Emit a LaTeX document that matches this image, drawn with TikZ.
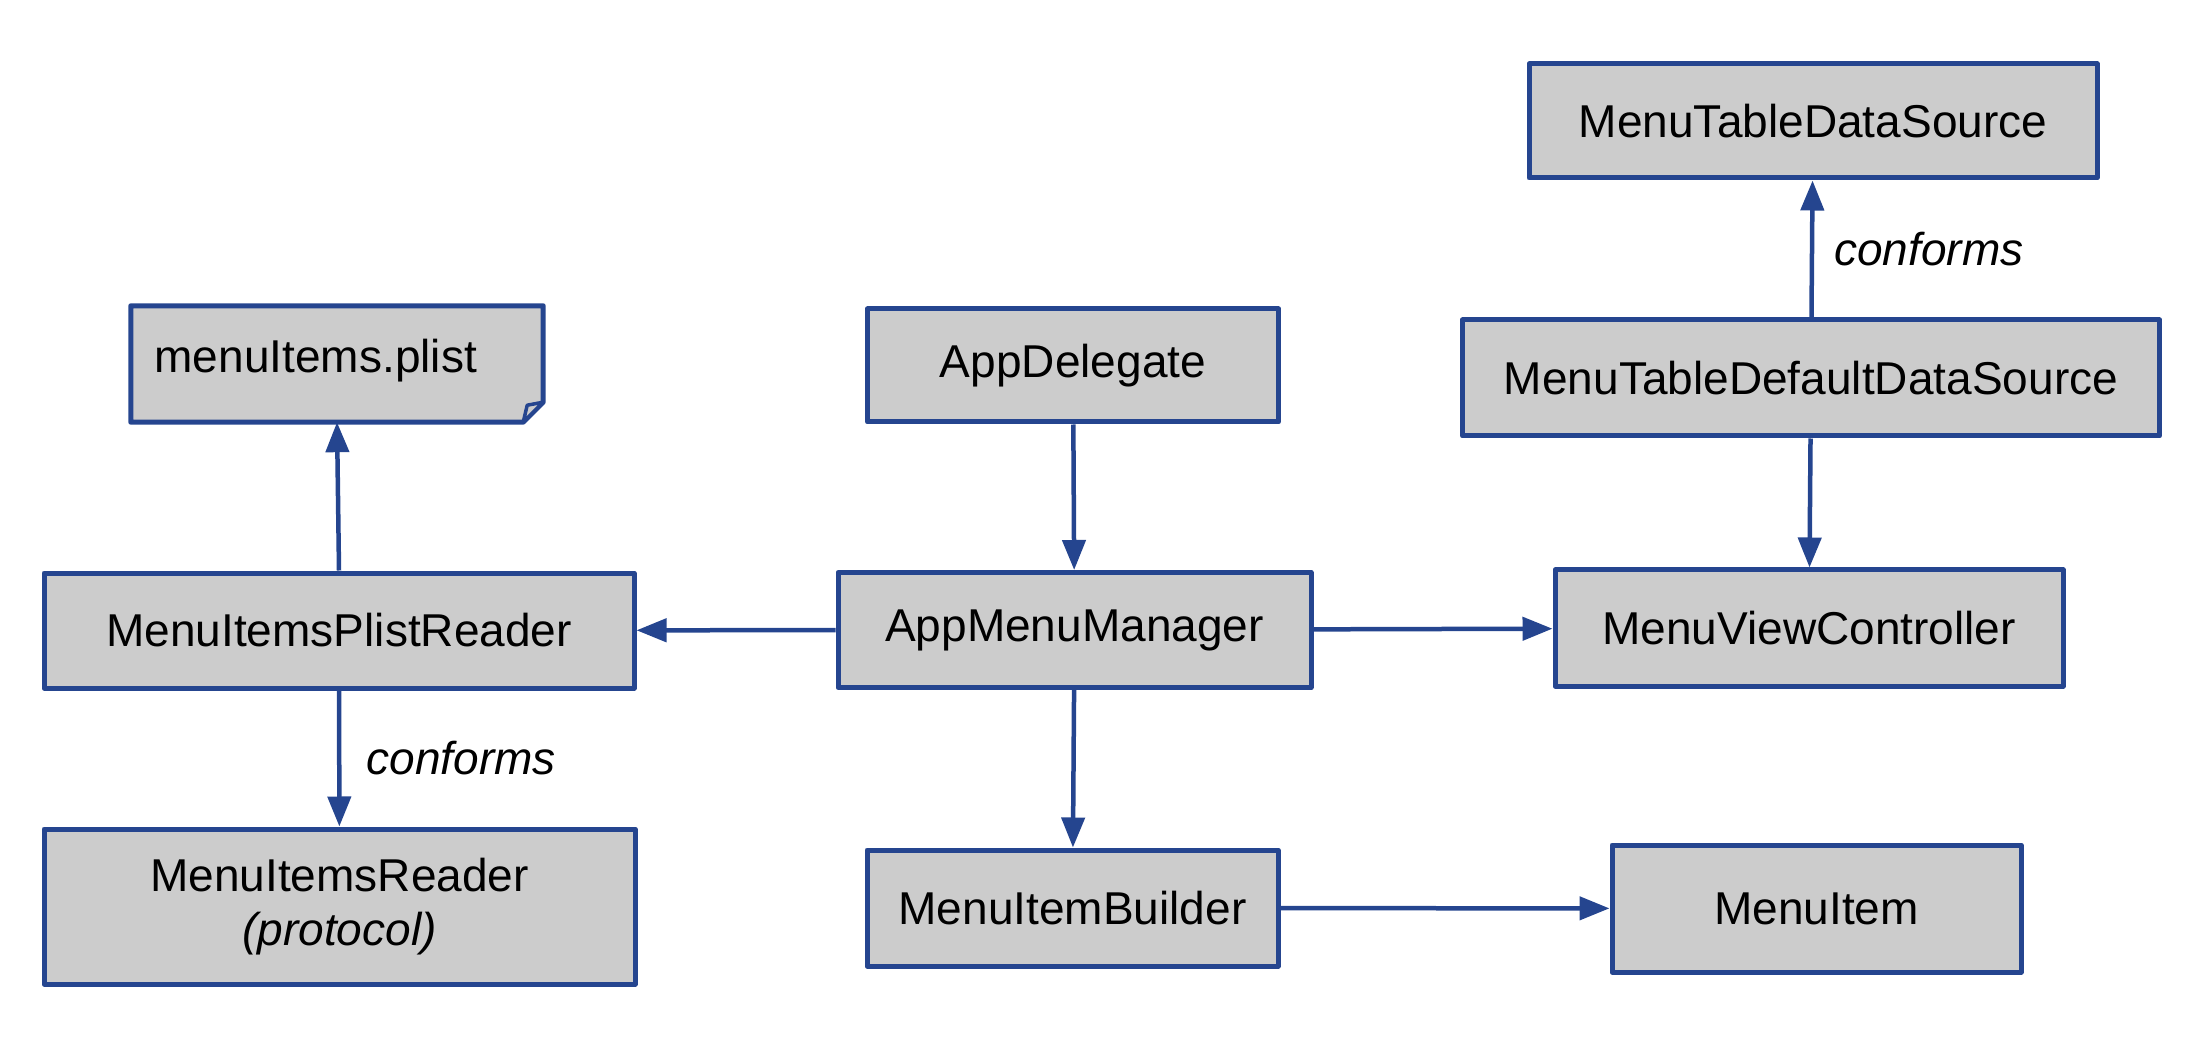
\documentclass[tikz,border=0pt]{standalone}
\usepackage{fontspec}
\setmainfont{Liberation Sans}
\usetikzlibrary{arrows.meta}
\definecolor{lineblue}{RGB}{37,69,143}
\definecolor{boxgray}{RGB}{204,204,204}

\begin{document}
\begin{tikzpicture}[font=\fontsize{13.1}{15.4}\selectfont,
    box/.style={rectangle,draw=lineblue,fill=boxgray,line width=0.05cm,line join=round,inner sep=0pt,align=center},
    link/.style={draw=lineblue,line width=0.045cm,-{Triangle[length=0.3cm,width=0.23cm]}}]
\useasboundingbox (0,0) rectangle (22.06,10.36);
\node (plist)   at (3.37,6.72)   [fill=boxgray,inner ysep=0pt,inner xsep=0.23cm,text width=3.65cm,align=left,text height=0.66cm,text depth=0.49cm] {menuItems.plist};
\fill [white] ([xshift=-0.2cm]plist.south east) -- (plist.south east) -- ([yshift=0.2cm]plist.south east) -- cycle;
\draw [lineblue,line width=0.05cm,line join=round] (plist.north west) -- (plist.north east) -- ([yshift=0.2cm]plist.south east) -- ([xshift=-0.2cm]plist.south east) -- (plist.south west) -- cycle;
\filldraw [lineblue,fill=boxgray,line width=0.035cm,line join=round] ([yshift=0.2cm]plist.south east) -- ([xshift=-0.16cm,yshift=0.17cm]plist.south east) -- ([xshift=-0.2cm]plist.south east) -- cycle;
\node (appdel)  at (10.73,6.705) [box,minimum width=4.11cm,minimum height=1.13cm] {AppDelegate};
\node (tabsrc)  at (18.13,9.15)  [box,minimum width=5.68cm,minimum height=1.14cm] {MenuTableDataSource};
\node (tabdef)  at (18.11,6.58)  [box,minimum width=6.97cm,minimum height=1.16cm] {MenuTableDefaultDataSource};
\node (plistrd) at (3.39,4.055)  [box,minimum width=5.90cm,minimum height=1.15cm] {MenuItemsPlistReader};
\node (manager) at (10.745,4.06) [box,minimum width=4.73cm,minimum height=1.15cm] {AppMenuManager};
\node (viewctl) at (18.09,4.08)  [box,minimum width=5.08cm,minimum height=1.16cm] {MenuViewController};
\node (reader)  at (3.395,1.295) [box,minimum width=5.91cm,minimum height=1.55cm] {MenuItemsReader\\\textit{(protocol)}};
\node (builder) at (10.725,1.28) [box,minimum width=4.11cm,minimum height=1.16cm] {MenuItemBuilder};
\node (item)    at (18.165,1.275) [box,minimum width=4.09cm,minimum height=1.27cm] {MenuItem};
\draw [link] (plistrd.north) to (plist.south);
\draw [link] (appdel)  to (manager);
\draw [link] (manager) to (plistrd);
\draw [link] (manager) to (viewctl);
\draw [link] (manager) to (builder);
\draw [link] (builder) to (item);
\draw [link] (tabdef)  to (viewctl);
\draw [link] (plistrd) to node [right,inner xsep=0.25cm] {\textit{conforms}} (reader);
\draw [link] (tabdef)  to node [right,inner xsep=0.2cm] {\textit{conforms}} (tabsrc);
\end{tikzpicture}
\end{document}
